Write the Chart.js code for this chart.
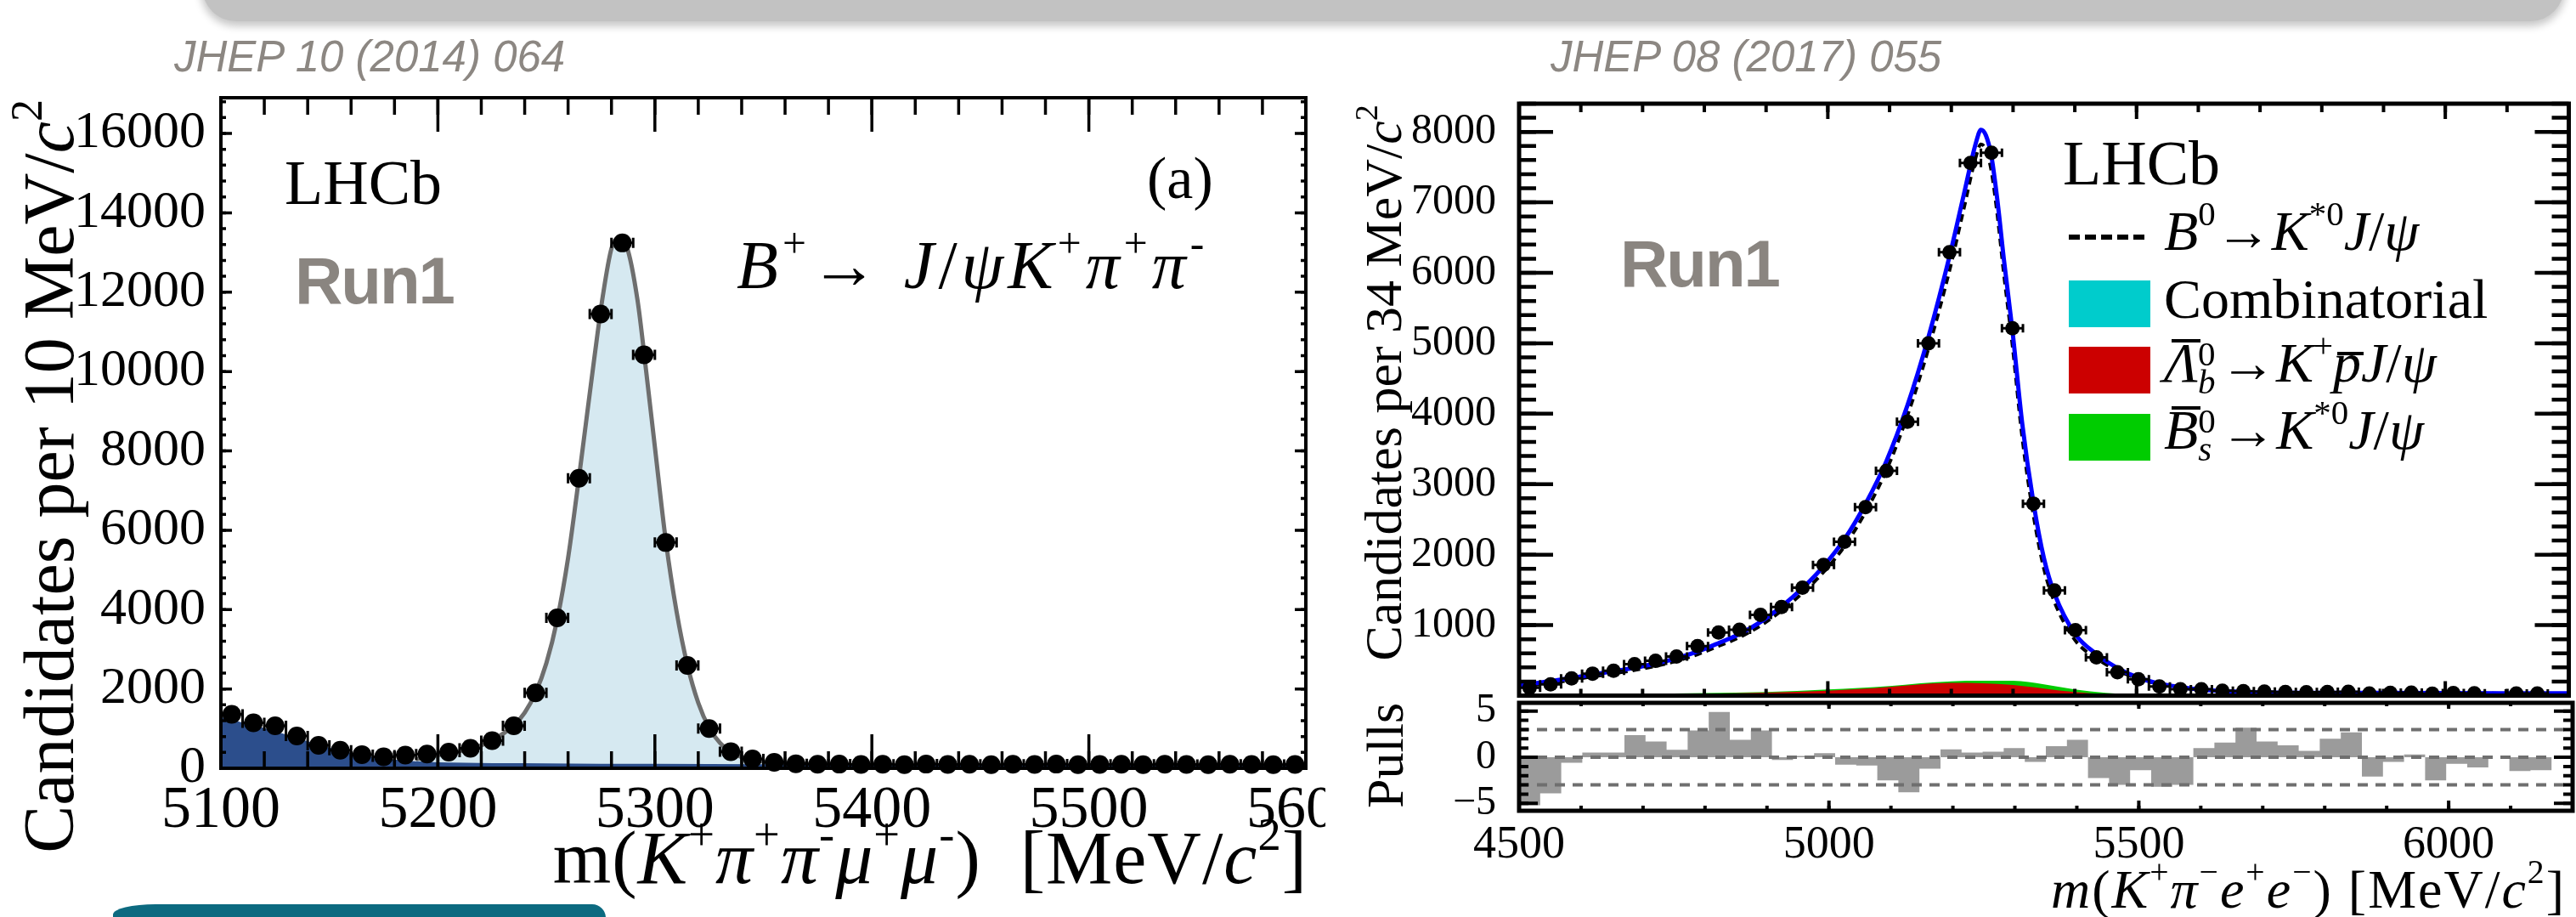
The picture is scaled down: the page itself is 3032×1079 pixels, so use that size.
<!DOCTYPE html>
<html>
<head>
<meta charset="utf-8">
<script src="https://cdn.jsdelivr.net/npm/chart.js@4.4.1/dist/chart.umd.min.js"></script>
<style>
  html, body { margin: 0; padding: 0; background: #fff; overflow: hidden; }
  #page { position: relative; width: 3032px; height: 1079px; overflow: hidden; background: #fff; }
  canvas { position: absolute; }
  .t { position: absolute; white-space: nowrap; line-height: 1; color: #000;
       font-family: 'Liberation Serif', 'Times New Roman', serif; }
  .jhep { font: italic 51px 'Liberation Sans', Arial, sans-serif; color: #8c8782; line-height: 1; }
  .run { font: bold 78px 'Liberation Sans', Arial, sans-serif; color: #8a8580; letter-spacing: -2px; line-height: 1; }
  .sp { font-size: .62em; position: relative; top: -.72em; }
  .stk { position: relative; display: inline-block; width: 26px; height: 0; }
  .stk .u, .stk .d { position: absolute; left: 0; font-size: 41px; line-height: 1; }
  .stk .u { bottom: 12px; }
  .stk .d { bottom: -21px; }
  .ob { position: relative; }
  .ob::after { content: ''; position: absolute; left: .14em; right: -.04em; top: .13em; height: 4px; background: #000; }
  .ob.low::after { top: .36em; left: .08em; }
  .rot { position: absolute; transform-origin: 0 0; transform: rotate(-90deg); white-space: nowrap;
         font-family: 'Liberation Serif', 'Times New Roman', serif; color: #000; }
  .box { position: absolute; width: 96px; height: 55px; }
  .banner { position: absolute; left: 238px; top: -45px; width: 2780px; height: 70px; background: #c2c2c2;
            border-radius: 0 0 40px 40px; box-shadow: 0 4px 10px 2px rgba(0,0,0,.22); }
  .teal { position: absolute; left: 133px; top: 1064px; width: 580px; height: 60px; background: #0c6a80;
          border-radius: 50px 16px 0 0 / 12px 16px 0 0; }
</style>
</head>
<body>
<div id="page">
  <div class="banner"></div>
  <div class="teal"></div>

  <canvas id="leftChart" width="1560" height="979" style="left:0;top:100px;width:1560px;height:979px"></canvas>
  <canvas id="mainChart" width="1472" height="767" style="left:1560px;top:60px;width:1472px;height:767px"></canvas>
  <canvas id="pullChart" width="1472" height="279" style="left:1560px;top:800px;width:1472px;height:279px"></canvas>

  <!-- left panel texts -->
  <div class="t jhep" style="left:205px;top:41px">JHEP 10 (2014) 064</div>
  <div class="t" style="left:335px;top:178px;font-size:74px">LHCb</div>
  <div class="t run" style="left:347px;top:291px">Run1</div>
  <div class="t" style="left:1350px;top:175px;font-size:70px">(a)</div>
  <div class="t" style="left:867px;top:272px;font-size:80px;letter-spacing:5px"><i>B</i><span class="sp">+</span>→ <i>J</i>/<i>ψ</i><i>K</i><span class="sp">+</span><i>π</i><span class="sp">+</span><i>π</i><span class="sp">-</span></div>
  <div class="t" style="right:1493px;top:966px;font-size:88px;letter-spacing:1px">m(<i>K</i><span class="sp">+</span><i>π</i><span class="sp">+</span><i>π</i><span class="sp">-</span><i>μ</i><span class="sp">+</span><i>μ</i><span class="sp">-</span>)&nbsp; [MeV/<i>c</i><span class="sp">2</span>]</div>
  <div class="rot" style="left:16px;top:1117px;width:1000px;height:84px;line-height:84px;font-size:84px;text-align:right">Candidates per 10 MeV/<i>c</i><span class="sp">2</span></div>

  <!-- right panel texts -->
  <div class="t jhep" style="left:1825px;top:41px">JHEP 08 (2017) 055</div>
  <div class="t run" style="left:1907px;top:271px">Run1</div>
  <div class="t" style="left:2428px;top:155px;font-size:74px">LHCb</div>
  <div style="position:absolute;left:2435px;top:276px;width:92px;height:6px;background:repeating-linear-gradient(to right,#000 0 13px,transparent 13px 19px)"></div>
  <div class="t" style="left:2547px;top:239px;font-size:66px"><i>B</i><span class="sp">0</span>→<i>K</i><span class="sp">*0</span><i>J</i>/<i>ψ</i></div>
  <div class="box" style="left:2435px;top:330px;background:#00cccc"></div>
  <div class="t" style="left:2547px;top:319px;font-size:66px">Combinatorial</div>
  <div class="box" style="left:2435px;top:408px;background:#cc0000"></div>
  <div class="t" style="left:2547px;top:394px;font-size:66px"><i class="ob">Λ</i><span class="stk"><span class="u">0</span><span class="d"><i>b</i></span></span>→<i>K</i><span class="sp">+</span><i class="ob low">p</i><i>J</i>/<i>ψ</i></div>
  <div class="box" style="left:2435px;top:487px;background:#00cc00"></div>
  <div class="t" style="left:2547px;top:473px;font-size:66px"><i class="ob">B</i><span class="stk"><span class="u">0</span><span class="d"><i>s</i></span></span>→<i>K</i><span class="sp">*0</span><i>J</i>/<i>ψ</i></div>
  <div class="rot" style="left:1597px;top:1123px;width:1000px;height:62px;line-height:62px;font-size:62px;text-align:right">Candidates per 34 MeV/<i>c</i><span class="sp">2</span></div>
  <div class="rot" style="left:1599px;top:1089px;width:400px;height:62px;line-height:62px;font-size:62px;text-align:center">Pulls</div>
  <div class="t" style="right:12px;top:1015px;font-size:64px;letter-spacing:2px"><i>m</i>(<i>K</i><span class="sp">+</span><i>π</i><span class="sp">−</span><i>e</i><span class="sp">+</span><i>e</i><span class="sp">−</span>) [MeV/<i>c</i><span class="sp">2</span>]</div>
</div>

<script>
// ---- left panel: B+ -> J/psi K+ pi+ pi- (10 MeV bins) ----
const leftMass = [5105, 5115, 5125, 5135, 5145, 5155, 5165, 5175, 5185, 5195,
                  5205, 5215, 5225, 5235, 5245, 5255, 5265, 5275, 5285, 5295,
                  5305, 5315, 5325, 5335, 5345, 5355, 5365, 5375, 5385, 5395,
                  5405, 5415, 5425, 5435, 5445, 5455, 5465, 5475, 5485, 5495,
                  5505, 5515, 5525, 5535, 5545, 5555, 5565, 5575, 5585, 5595];
const leftCounts = [1360, 1145, 1070, 815, 580, 455, 345, 290, 330, 360,
                    405, 505, 695, 1070, 1900, 3790, 7310, 11450, 13240, 10420,
                    5690, 2590, 1000, 420, 235, 150, 115, 100, 105, 95,
                    100, 90, 105, 95, 100, 90, 100, 95, 105, 90,
                    95, 100, 90, 100, 95, 90, 100, 95, 90, 95];
const leftBkgMass = [5100, 5110, 5120, 5130, 5140, 5150, 5160, 5170, 5180, 5190, 5200, 5250, 5300, 5350, 5400, 5500, 5600];
const leftBkgVal = [1290, 1150, 1010, 850, 680, 520, 390, 290, 220, 175, 150, 125, 110, 100, 95, 85, 75];
const leftFitMass = [5190, 5200, 5210, 5220, 5225, 5230, 5235, 5240, 5245, 5250,
                     5255, 5260, 5264, 5268, 5272, 5276, 5280, 5283, 5287, 5292,
                     5296, 5300, 5305, 5310, 5315, 5320, 5325, 5330, 5335, 5340,
                     5350, 5360, 5380];
const leftFitVal = [230, 330, 430, 580, 700, 870, 1080, 1400, 1900, 2650,
                    3750, 5300, 6900, 8600, 10300, 11900, 13100, 13350, 13150, 11800,
                    10000, 8100, 5750, 3950, 2600, 1650, 1020, 640, 410, 280,
                    170, 130, 110];
const leftXTicks = [5100, 5200, 5300, 5400, 5500, 5600];
const leftYTicks = [0, 2000, 4000, 6000, 8000, 10000, 12000, 14000, 16000];

// ---- right panel: B0 -> K*0 J/psi (ee), 34 MeV bins ----
const rightMass = [4517, 4551, 4585, 4619, 4653, 4687, 4721, 4755, 4789, 4823,
                   4857, 4891, 4925, 4959, 4993, 5027, 5061, 5095, 5129, 5163,
                   5197, 5231, 5265, 5299, 5333, 5367, 5401, 5435, 5469, 5503,
                   5537, 5571, 5605, 5639, 5673, 5707, 5741, 5775, 5809, 5843,
                   5877, 5911, 5945, 5979, 6013, 6047, 6081, 6115, 6149, 6183];
const rightCounts = [111, 159, 245, 312, 352, 445, 493, 554, 702, 896,
                     936, 1145, 1258, 1532, 1855, 2183, 2674, 3190, 3886, 5000,
                     6291, 7560, 7703, 5213, 2724, 1491, 928, 542, 331, 232,
                     131, 90, 90, 70, 62, 58, 52, 48, 52, 55,
                     30, 38, 42, 28, 35, 32, null, 30, 30, null];
const rightFitMass = [4500, 4517, 4551, 4585, 4619, 4653, 4687, 4721, 4755, 4789,
                      4823, 4857, 4891, 4925, 4959, 4993, 5027, 5061, 5095, 5129,
                      5163, 5197, 5220, 5240, 5248, 5256, 5265, 5275, 5285, 5299,
                      5315, 5333, 5350, 5367, 5401, 5435, 5469, 5503, 5537, 5571,
                      5605, 5650, 5700, 5800, 5900, 6000, 6200];
const rightFitTotal = [150, 165, 205, 250, 300, 345, 395, 455, 530, 625,
                       745, 875, 1045, 1265, 1525, 1835, 2220, 2720, 3330, 4120,
                       5090, 6230, 7100, 7850, 8030, 7950, 7650, 7000, 6200, 5180,
                       3850, 2740, 1950, 1450, 870, 590, 390, 255, 170, 120,
                       85, 60, 45, 40, 38, 36, 33];
const rightFitSignal = [125, 140, 177, 221, 270, 313, 361, 419, 492, 585,
                        703, 828, 993, 1205, 1455, 1752, 2120, 2605, 3200, 3975,
                        4925, 6030, 6900, 7650, 7825, 7745, 7440, 6790, 5990, 4970,
                        3650, 2560, 1800, 1330, 780, 530, 355, 240, 165, 118,
                        80, 57, 42, 37, 35, 33, 30];
const rightBkgMass = [4500, 4600, 4700, 4800, 4900, 5000, 5050, 5100, 5150, 5200, 5250, 5300, 5350, 5400, 5450, 5500, 5550, 5600];
const rightLambdaB = [10, 15, 20, 28, 42, 68, 92, 125, 160, 180, 175, 150, 100, 50, 20, 6, 0, 0];
const rightBsStack = [15, 20, 26, 35, 52, 88, 110, 135, 175, 203, 210, 210, 160, 88, 40, 12, 2, 0];
const rightYTicks = [1000, 2000, 3000, 4000, 5000, 6000, 7000, 8000];

// ---- pulls ----
const pullEdges = [4500, 4534, 4568, 4602, 4636, 4670, 4704, 4738, 4772, 4806,
                   4840, 4874, 4908, 4942, 4976, 5010, 5044, 5078, 5112, 5146,
                   5180, 5214, 5248, 5282, 5316, 5350, 5384, 5418, 5452, 5486,
                   5520, 5554, 5588, 5622, 5656, 5690, 5724, 5758, 5792, 5826,
                   5860, 5894, 5928, 5962, 5996, 6030, 6064, 6098, 6132, 6166, 6200];
const pulls = [-5.2, -3.9, -0.6, 0.5, 0.5, 2.4, 1.7, 0.8, 2.9, 4.9,
               1.9, 2.9, -0.3, 0.15, 0.45, -0.8, -0.9, -2.5, -3.8, -1.25,
               0.85, 0.5, 0.6, 1.0, -0.5, 1.2, 1.9, -2.25, -3.0, -1.4,
               -3.2, -3.0, 1.0, 1.6, 3.2, 1.7, 1.3, 0.7, 2.0, 2.7,
               -2.1, -0.5, 0.3, -2.5, -0.7, -1.1, 0, -1.5, -1.4, 0];
const pullRefLines = [3, 0, -3];
const pullXTicks = [4500, 5000, 5500, 6000];
const pullYTicks = [-5, 0, 5];

// ---- helpers ----
const SERIF = "'Liberation Serif', 'Times New Roman', serif";
const serif = size => ({ family: SERIF, size: size, lineHeight: 1 });
const plain = v => String(v);
const xy = (xs, ys) => xs.map((x, i) => ({ x: x, y: ys[i] }));

// 轴框的尺寸固定，使绘图区与参考图对齐
function fixedAxis(size) {
    return function (scale) {
        if (scale.isHorizontal()) scale.height = size;
        else scale.width = size;
        scale.paddingLeft = scale.paddingRight = scale.paddingTop = scale.paddingBottom = 0;
    };
}

// 直接指定刻度值（大字号时 Chart.js 会自动减少刻度）
function fixedTicks(values) {
    return function (scale) {
        scale.ticks = values.map(v => ({ value: v }));
    };
}

// ROOT 风格：内向刻度、边框、误差棒
function makeFrame(cfg) {
    return {
        id: 'rootFrame',
        afterDatasetsDraw(chart) {
            const { ctx, chartArea: a, scales } = chart;
            const xs = scales.x, ys = scales.y;
            if (cfg.errors) {
                const e = cfg.errors;
                ctx.save();
                if (e.clip) { ctx.beginPath(); ctx.rect(a.left, a.top, a.width, a.height); ctx.clip(); }
                ctx.strokeStyle = '#000';
                ctx.lineWidth = e.width;
                ctx.beginPath();
                chart.data.datasets[e.dataset].data.forEach(pt => {
                    if (pt.y === null) return;
                    const px = xs.getPixelForValue(pt.x), py = ys.getPixelForValue(pt.y);
                    const xl = xs.getPixelForValue(pt.x - e.halfBin), xr = xs.getPixelForValue(pt.x + e.halfBin);
                    const err = Math.sqrt(pt.y);
                    ctx.moveTo(xl, py); ctx.lineTo(xr, py);
                    ctx.moveTo(xl, py - e.cap); ctx.lineTo(xl, py + e.cap);
                    ctx.moveTo(xr, py - e.cap); ctx.lineTo(xr, py + e.cap);
                    ctx.moveTo(px, ys.getPixelForValue(pt.y - err)); ctx.lineTo(px, ys.getPixelForValue(pt.y + err));
                });
                ctx.stroke();
                ctx.restore();
            }
            ctx.save();
            ctx.strokeStyle = '#000';
            cfg.marks.forEach(m => {
                const sc = scales[m.axis];
                ctx.lineWidth = m.width;
                ctx.beginPath();
                for (let v = Math.ceil(sc.min / m.step) * m.step; v <= sc.max; v += m.step) {
                    const p = sc.getPixelForValue(v);
                    if (m.side === 'bottom') { ctx.moveTo(p, a.bottom); ctx.lineTo(p, a.bottom - m.len); }
                    else if (m.side === 'top') { ctx.moveTo(p, a.top); ctx.lineTo(p, a.top + m.len); }
                    else if (m.side === 'left') { ctx.moveTo(a.left, p); ctx.lineTo(a.left + m.len, p); }
                    else { ctx.moveTo(a.right, p); ctx.lineTo(a.right - m.len, p); }
                }
                ctx.stroke();
            });
            ctx.lineWidth = cfg.frameWidth;
            ctx.strokeRect(a.left, a.top, a.width, a.height);
            ctx.restore();
        }
    };
}

function ticks(axis, side, major, minor, lenMajor, lenMinor, width) {
    return [
        { axis: axis, side: side, step: major, len: lenMajor, width: width },
        { axis: axis, side: side, step: minor, len: lenMinor, width: width }
    ];
}

const baseOptions = {
    responsive: false,
    animation: false,
    devicePixelRatio: 1,
    plugins: { legend: { display: false }, tooltip: { enabled: false } }
};

// ========== left chart ==========
new Chart(document.getElementById('leftChart'), {
    type: 'line',
    data: {
        datasets: [
            { data: xy(leftMass, leftCounts), showLine: false, pointRadius: 11, pointBackgroundColor: '#000',
              pointBorderWidth: 0, clip: false },
            { data: xy(leftBkgMass, leftBkgVal), borderWidth: 0, borderColor: 'transparent', pointRadius: 0,
              fill: 'origin', backgroundColor: '#2c4e8c', cubicInterpolationMode: 'monotone' },
            { data: xy(leftFitMass, leftFitVal), borderColor: '#6e6e6e', borderWidth: 5, pointRadius: 0,
              fill: 'origin', backgroundColor: '#d6e9f1', cubicInterpolationMode: 'monotone' }
        ]
    },
    options: {
        ...baseOptions,
        layout: { padding: { top: 15, right: 23, left: 0, bottom: 0 } },
        scales: {
            x: { type: 'linear', min: 5100, max: 5600, grid: { display: false }, border: { display: false },
                 ticks: { font: serif(70), color: '#000', padding: 8, callback: plain,
                          autoSkip: false, maxRotation: 0 },
                 afterBuildTicks: fixedTicks(leftXTicks), afterFit: fixedAxis(175) },
            y: { min: 0, max: 16900, grid: { display: false }, border: { display: false },
                 ticks: { font: serif(62), color: '#000', padding: 10, callback: plain, autoSkip: false },
                 afterBuildTicks: fixedTicks(leftYTicks), afterFit: fixedAxis(260) }
        }
    },
    plugins: [makeFrame({
        frameWidth: 4,
        errors: { dataset: 0, halfBin: 5, width: 3, cap: 6, clip: false },
        marks: [].concat(
            ticks('x', 'bottom', 100, 20, 40, 20, 3.5),
            ticks('x', 'top', 100, 20, 40, 20, 3.5),
            ticks('y', 'left', 2000, 400, 13, 6, 3.5),
            ticks('y', 'right', 2000, 400, 13, 6, 3.5))
    })]
});

// ========== right main chart ==========
new Chart(document.getElementById('mainChart'), {
    type: 'line',
    data: {
        datasets: [
            { data: xy(rightMass, rightCounts), showLine: false, pointRadius: 8.5, pointBackgroundColor: '#000',
              pointBorderWidth: 0 },
            { data: xy(rightFitMass, rightFitTotal), borderColor: '#0000ff', borderWidth: 5, pointRadius: 0,
              fill: false, cubicInterpolationMode: 'monotone' },
            { data: xy(rightFitMass, rightFitSignal), borderColor: '#000', borderWidth: 4, borderDash: [9, 6],
              pointRadius: 0, fill: false, cubicInterpolationMode: 'monotone' },
            { data: xy(rightBkgMass, rightLambdaB), borderWidth: 0, borderColor: 'transparent', pointRadius: 0,
              fill: 'origin', backgroundColor: '#cc0000', cubicInterpolationMode: 'monotone' },
            { data: xy(rightBkgMass, rightBsStack), borderWidth: 0, borderColor: 'transparent', pointRadius: 0,
              fill: 'origin', backgroundColor: '#00cc00', cubicInterpolationMode: 'monotone' }
        ]
    },
    options: {
        ...baseOptions,
        layout: { padding: { top: 62, right: 4, left: 0, bottom: 0 } },
        scales: {
            x: { type: 'linear', min: 4500, max: 6200, display: false },
            y: { min: 0, max: 8400, grid: { display: false }, border: { display: false },
                 ticks: { font: serif(50), color: '#000', padding: 19, callback: plain, autoSkip: false },
                 afterBuildTicks: fixedTicks(rightYTicks), afterFit: fixedAxis(228) }
        }
    },
    plugins: [makeFrame({
        frameWidth: 5,
        errors: { dataset: 0, halfBin: 17, width: 3, cap: 5, clip: true },
        marks: [].concat(
            ticks('x', 'bottom', 500, 100, 17, 8, 4),
            ticks('x', 'top', 500, 100, 18, 10, 4),
            ticks('y', 'left', 1000, 200, 40, 20, 4.5),
            ticks('y', 'right', 1000, 200, 40, 20, 4.5))
    })]
});

// ========== pull chart ==========
const pullData = pullEdges.map((x, i) => ({ x: x, y: pulls[Math.min(i, pulls.length - 1)] }));
new Chart(document.getElementById('pullChart'), {
    type: 'line',
    data: {
        datasets: pullRefLines.map(v => ({
            data: [{ x: 4500, y: v }, { x: 6200, y: v }],
            borderColor: '#6f6f6f', borderWidth: 4, borderDash: [12, 9], pointRadius: 0, fill: false
        })).concat([
            { data: pullData, stepped: true, borderWidth: 0, borderColor: 'transparent', pointRadius: 0,
              fill: 'origin', backgroundColor: '#9b9b9b' }
        ])
    },
    options: {
        ...baseOptions,
        layout: { padding: { top: 27, right: 4, left: 0, bottom: 0 } },
        scales: {
            x: { type: 'linear', min: 4500, max: 6200, grid: { display: false }, border: { display: false },
                 ticks: { font: serif(54), color: '#000', padding: 6, callback: plain,
                          autoSkip: false, maxRotation: 0 },
                 afterBuildTicks: fixedTicks(pullXTicks), afterFit: fixedAxis(125) },
            y: { min: -5.8, max: 5.9, grid: { display: false }, border: { display: false },
                 ticks: { font: serif(48), color: '#000', padding: 19,
                          callback: v => (v < 0 ? '\u2212' + Math.abs(v) : String(v)), autoSkip: false },
                 afterBuildTicks: fixedTicks(pullYTicks), afterFit: fixedAxis(228) }
        }
    },
    plugins: [makeFrame({
        frameWidth: 5,
        marks: [].concat(
            ticks('x', 'bottom', 500, 100, 12, 6, 4),
            ticks('x', 'top', 500, 100, 7, 4, 4),
            ticks('y', 'left', 5, 1, 22, 11, 4),
            ticks('y', 'right', 5, 1, 22, 11, 4))
    })]
});
</script>
</body>
</html>
